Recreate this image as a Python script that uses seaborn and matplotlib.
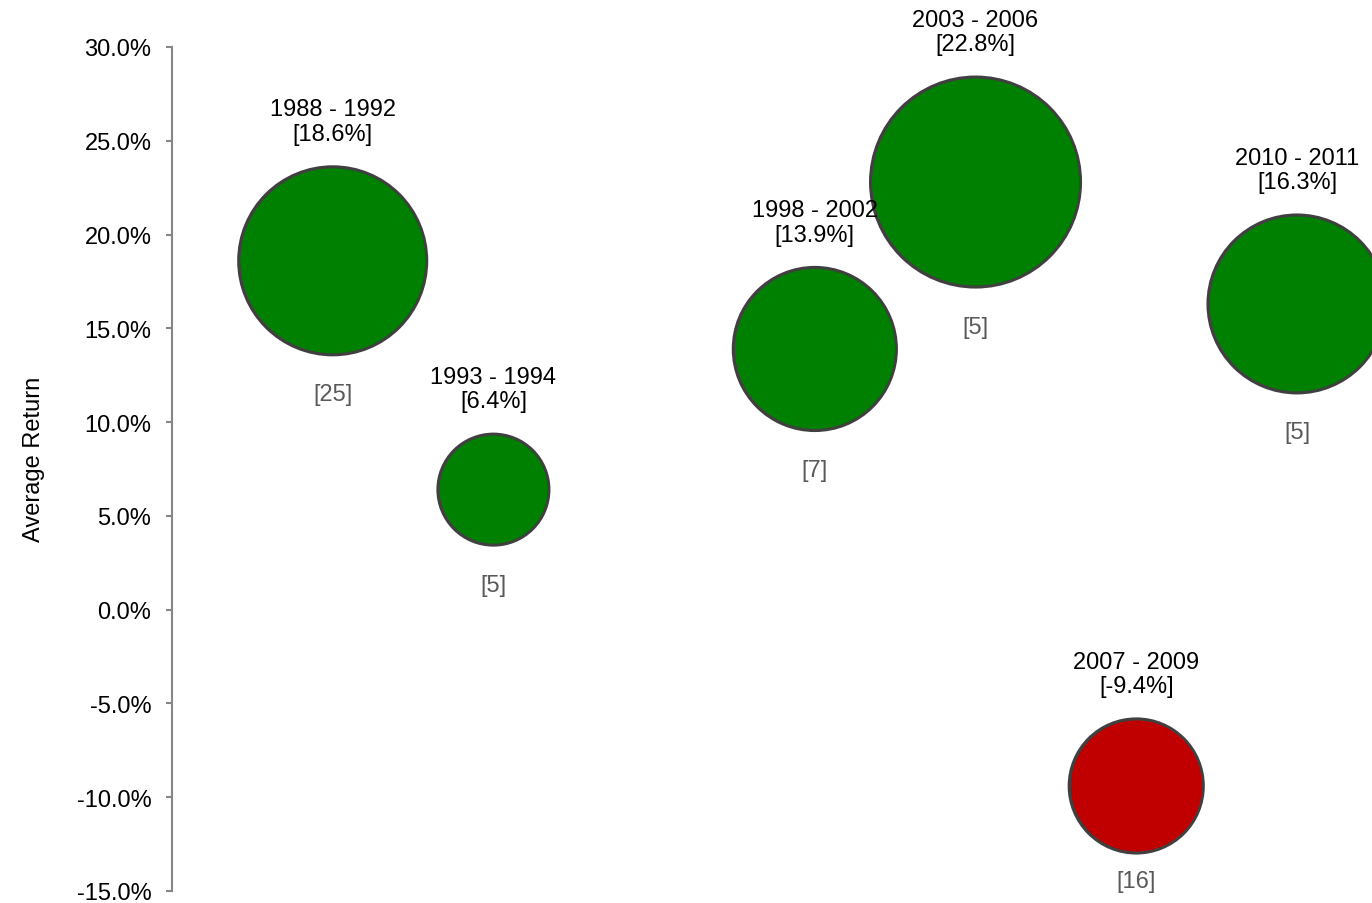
import matplotlib.pyplot as plt
import numpy as np
import pandas as pd
import seaborn as sns

# Datos
periods = ['1988 - 1992', '1993 - 1994', '1998 - 2002', '2003 - 2006', '2007 - 2009', '2010 - 2011']
x_pos = [1, 2, 4, 5, 6, 7]
avg_return = [18.6, 6.4, 13.9, 22.8, -9.4, 16.3]
counts = [25, 5, 7, 5, 16, 5]
bubble_weight = [2.87, 1.0, 2.16, 3.58, 1.46, 2.57]

df = pd.DataFrame({'x': x_pos, 'ret': avg_return, 'n': counts,
                   'w': bubble_weight, 'period': periods})
df['sign'] = np.where(df['ret'] >= 0, 'pos', 'neg')

sns.set_style("white")
plt.rcParams['font.family'] = ['Liberation Sans', 'DejaVu Sans']

fig = plt.figure(figsize=(13.72, 9.04), dpi=100)
ax = fig.add_axes([172 / 1372, 12 / 904, 1200 / 1372, 844 / 904])

edge_lw = 2.2
sns.scatterplot(data=df, x='x', y='ret', hue='sign', size='w',
                palette={'pos': '#008000', 'neg': '#C00000'},
                sizes=(6387, 22861), size_norm=(1.0, 3.58),
                edgecolor='#404040', linewidth=edge_lw, alpha=1,
                legend=False, ax=ax, zorder=3)

ax.set_xlim(0, 7.467)
ax.set_ylim(-15, 30)
ax.set_yticks(np.arange(-15, 31, 5))
ax.set_yticklabels([f'{v:.1f}%' for v in np.arange(-15, 31, 5)])
ax.set_xticks([])
ax.set_xlabel('')
ax.set_ylabel('Average Return', fontsize=17, color='black')
ax.yaxis.set_label_coords(-0.106, 0.512)

for side in ['top', 'right', 'bottom']:
    ax.spines[side].set_visible(False)
ax.spines['left'].set_color('#868686')
ax.spines['left'].set_linewidth(1.5)
ax.tick_params(axis='y', which='major', labelsize=17, direction='out',
               length=4.3, width=1.5, color='#868686', labelcolor='black',
               pad=10.5, left=True)

# Etiquetas arriba y abajo de cada burbuja
sizes = ax.collections[0].get_sizes()
px_per_pt = fig.dpi / 72
ax_bottom_px = ax.get_window_extent().y0
for i, row in df.iterrows():
    r_px = np.sqrt(sizes[i]) / 2 * px_per_pt + edge_lw / 2 * px_per_pt
    ax.annotate(f"{row['period']}\n[{row['ret']:.1f}%]", (row['x'], row['ret']),
                xytext=(0, r_px + 43.5), textcoords='offset pixels',
                ha='center', va='center', fontsize=17, color='black',
                linespacing=1.15, annotation_clip=False)
    cy = ax.transData.transform((row['x'], row['ret']))[1]
    off = r_px + 38
    if cy - off < ax_bottom_px + 10:
        off = cy - (ax_bottom_px + 10)
    ax.annotate(f"[{row['n']}]", (row['x'], row['ret']),
                xytext=(0, -off), textcoords='offset pixels',
                ha='center', va='center', fontsize=17, color='#595959',
                annotation_clip=False)

plt.savefig('out.png', dpi=100)
